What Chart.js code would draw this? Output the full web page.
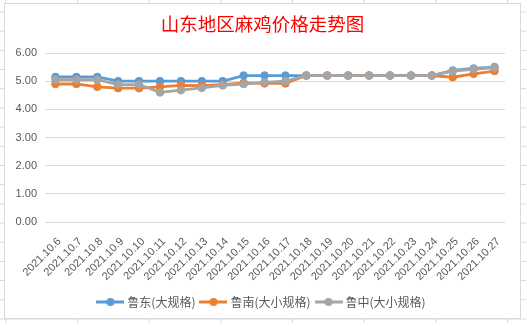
<!DOCTYPE html>
<html>
<head>
<meta charset="utf-8">
<script src="https://cdn.jsdelivr.net/npm/chart.js@4.4.0/dist/chart.umd.min.js"></script>
<style>
  html, body { margin: 0; padding: 0; }
  body {
    width: 526px; height: 323px; overflow: hidden; position: relative;
    background-color: #fff;
    background-image: linear-gradient(to right, #d4d4dc 1px, transparent 1px),
                      linear-gradient(to bottom, #d4d4dc 1px, transparent 1px);
    background-size: 71.7px 19.2px;
    background-position: 5.3px 11.5px;
  }
  #box {
    position: absolute; left: 4px; top: 3px; width: 517px; height: 316px;
    box-sizing: border-box; background: #fff; border: 1px solid #d9d9d9;
  }
  #chart { display: block; }
</style>
</head>
<body>
<div id="box"><canvas id="chart" width="515" height="314"></canvas></div>
<script>
// dates on the x axis
const labels = ["2021.10.6", "2021.10.7", "2021.10.8", "2021.10.9", "2021.10.10", "2021.10.11",
  "2021.10.12", "2021.10.13", "2021.10.14", "2021.10.15", "2021.10.16", "2021.10.17",
  "2021.10.18", "2021.10.19", "2021.10.20", "2021.10.21", "2021.10.22", "2021.10.23",
  "2021.10.24", "2021.10.25", "2021.10.26", "2021.10.27"];

// 鲁东(大规格)
const luDong = [5.15, 5.15, 5.15, 5.0, 5.0, 5.0, 5.0, 5.0, 5.0, 5.2, 5.2, 5.2,
  5.2, 5.2, 5.2, 5.2, 5.2, 5.2, 5.2, 5.38, 5.45, 5.5];
// 鲁南(大小规格)
const luNan = [4.9, 4.9, 4.8, 4.75, 4.75, 4.8, 4.85, 4.84, 4.88, 4.94, 4.92, 4.92,
  5.2, 5.2, 5.2, 5.2, 5.2, 5.2, 5.2, 5.14, 5.26, 5.36];
// 鲁中(大小规格)
const luZhong = [5.05, 5.05, 5.05, 4.88, 4.88, 4.6, 4.68, 4.76, 4.85, 4.9, 4.96, 5.0,
  5.2, 5.2, 5.2, 5.2, 5.2, 5.2, 5.2, 5.36, 5.42, 5.48];

const yTicks = [0, 1, 2, 3, 4, 5, 6];

const seriesNames = ["鲁东(大规格)", "鲁南(大小规格)", "鲁中(大小规格)"];
const seriesColors = ["#5B9BD5", "#ED7D31", "#A5A5A5"];

function legendIcon(color) {
  var c = document.createElement("canvas");
  c.width = 28;
  c.height = 10;
  var g = c.getContext("2d");
  g.strokeStyle = color;
  g.lineWidth = 3;
  g.beginPath();
  g.moveTo(0, 5);
  g.lineTo(28, 5);
  g.stroke();
  g.fillStyle = color;
  g.beginPath();
  g.arc(14, 5, 4, 0, Math.PI * 2);
  g.fill();
  return c;
}

function makeSet(i, data) {
  return {
    label: seriesNames[i],
    data: data,
    borderColor: seriesColors[i],
    backgroundColor: seriesColors[i],
    borderWidth: 2.8,
    pointRadius: 3.8,
    pointBorderWidth: 1,
    pointBackgroundColor: seriesColors[i],
    pointBorderColor: seriesColors[i],
    tension: 0,
    order: 3 - i
  };
}

const tickFont = { family: "'Liberation Sans', Arial, sans-serif", size: 11 };

new Chart(document.getElementById("chart"), {
  type: "line",
  data: {
    labels: labels,
    datasets: [makeSet(0, luDong), makeSet(1, luNan), makeSet(2, luZhong)]
  },
  options: {
    responsive: false,
    animation: false,
    layout: { padding: 0 },
    plugins: {
      title: {
        display: true,
        text: "山东地区麻鸡价格走势图",
        color: "#FF0000",
        font: { family: "'Noto Sans CJK SC', sans-serif", size: 18.5, weight: "normal" },
        padding: { top: 8.5, bottom: 18.3 }
      },
      legend: {
        position: "bottom",
        labels: {
          usePointStyle: true,
          pointStyleWidth: 22,
          padding: 7,
          color: "#595959",
          font: { family: "'Noto Sans CJK SC', sans-serif", size: 12 },
          generateLabels: function (chart) {
            return chart.data.datasets.map(function (ds, i) {
              return {
                text: ds.label,
                fillStyle: ds.borderColor,
                strokeStyle: ds.borderColor,
                lineWidth: 0,
                pointStyle: legendIcon(ds.borderColor),
                fontColor: "#595959",
                hidden: false,
                datasetIndex: i
              };
            });
          }
        }
      },
      tooltip: { enabled: false }
    },
    scales: {
      x: {
        offset: true,
        grid: { display: false },
        border: { display: false },
        ticks: {
          autoSkip: false,
          minRotation: 45,
          maxRotation: 45,
          padding: 5,
          labelOffset: 4,
          color: "#595959",
          font: tickFont
        },
        afterFit: function (s) { s.height = 67; }
      },
      y: {
        min: 0,
        max: 6,
        afterBuildTicks: function (s) {
          s.ticks = yTicks.map(function (v) { return { value: v }; });
        },
        grid: { color: "#d9d9d9", drawTicks: false },
        border: { display: false },
        ticks: {
          padding: 8,
          color: "#595959",
          font: tickFont,
          callback: function (v) { return v.toFixed(2); }
        },
        afterFit: function (s) { s.width = 40; }
      },
      yRight: {
        type: "linear",
        position: "right",
        grid: { display: false },
        border: { display: false },
        ticks: { display: false },
        afterFit: function (s) { s.width = 15; }
      }
    }
  }
});
</script>
</body>
</html>
